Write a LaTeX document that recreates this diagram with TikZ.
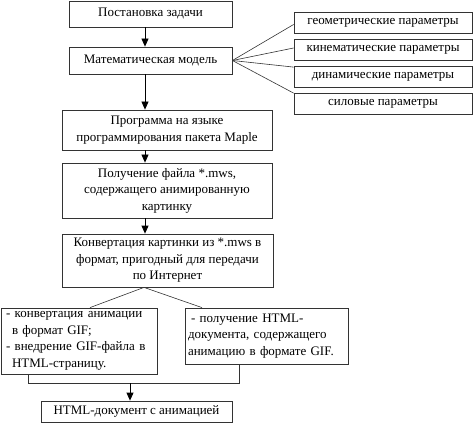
\documentclass[tikz,border=0pt]{standalone}
\usepackage{fontspec}
\setmainfont{Liberation Serif}
\usetikzlibrary{arrows.meta,calc}
\begin{document}
\begin{tikzpicture}[x=1pt,y=-1pt,
  box/.style={draw=black!80, line width=0.8pt, inner sep=0pt, align=center,
    font=\fontsize{13}{16.5}\selectfont},
  parbox/.style={box, minimum width=178pt, minimum height=21pt},
  lbox/.style={box, align=left},
  arr/.style={draw=black, line width=0.8pt, -{Triangle[length=8pt,width=7pt]}},
  ln/.style={draw=black!80, line width=0.6pt}]
\useasboundingbox (0,0) rectangle (474,425);
% main column
\node[box, minimum width=163pt, minimum height=26pt] (b1) at (150.5,14) {Постановка задачи};
\node[box, minimum width=163pt, minimum height=27pt] (b2) at (150.5,60.5) {Математическая модель};
\node[box, minimum width=210pt, minimum height=40pt] (b3) at (167,130) {Программа на языке\\программирования пакета Maple};
\node[box, minimum width=210pt, minimum height=55pt] (b4) at (167,190.5) {Получение файла *.mws,\\содержащего анимированную\\картинку};
\node[box, minimum width=211pt, minimum height=53pt] (b5) at (167.5,260.5) {Конвертация картинки из *.mws в\\формат, пригодный для передачи\\по Интернет};
% parameters
\node[parbox] (p1) at (383,23) {геометрические параметры};
\node[parbox] (p2) at (383,50) {кинематические параметры};
\node[parbox] (p3) at (383,77) {динамические параметры};
\node[parbox] (p4) at (383,104) {силовые параметры};
% lower boxes
\node[lbox, minimum width=156pt, minimum height=66pt, text width=146pt] (L) at (79,341)
  {- конвертация анимации\\\hspace*{6pt}в формат GIF;\\- внедрение GIF-файла в\\\hspace*{6pt}HTML-страницу.};
\node[lbox, minimum width=163pt, minimum height=56pt, text width=157pt] (R) at (266.5,336)
  {\hspace*{3pt}- получение HTML-\\документа, содержащего\\анимацию в формате GIF.};
\node[box, minimum width=191pt, minimum height=21pt] (F) at (136.5,411.5) {HTML-документ с анимацией};
% axis coordinates
\coordinate (ax) at (145,0);
\coordinate (fork) at (144,287);
\coordinate (lj) at (28,383);
\coordinate (rj) at (239,383);
\coordinate (mj) at (130,383);
% arrows
\draw[arr] (b1.south -| ax) -- (b2.north -| ax);
\draw[arr] (b2.south -| ax) -- (b3.north -| ax);
\draw[arr] (b3.south -| ax) -- (b4.north -| ax);
\draw[arr] (b4.south -| ax) -- (b5.north -| ax);
% fan to parameters
\draw[ln] (b2.east) -- ($(p1.west)+(0,1.5)$);
\draw[ln] (b2.east) -- ($(p2.west)+(0,-2)$);
\draw[ln] (b2.east) -- ($(p3.north west)+(0,1)$);
\draw[ln] (b2.east) -- (p4.north west);
% fork to lower boxes
\draw[ln] (b5.south -| fork) -- (L.north -| 90,0);
\draw[ln] (b5.south -| fork) -- (R.north -| 202,0);
% join
\draw[ln] (L.south -| lj) -- (lj) -- (rj) -- (R.south -| rj);
\draw[arr] (mj) -- (F.north -| mj);
\end{tikzpicture}
\end{document}
